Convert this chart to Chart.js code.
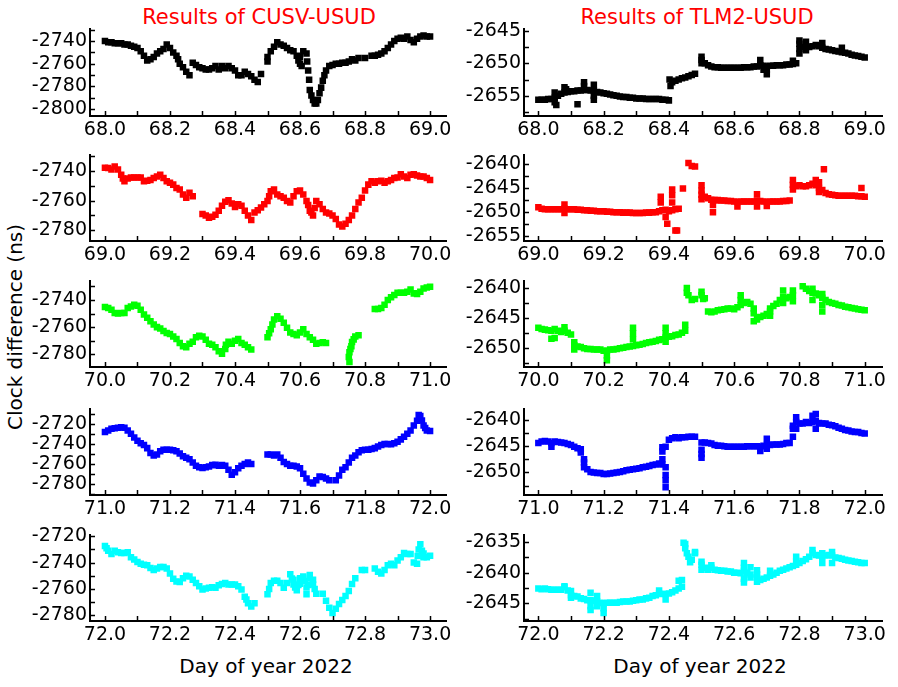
<!DOCTYPE html>
<html>
<head>
<meta charset="utf-8">
<script src="https://cdn.jsdelivr.net/npm/chart.js@4.4.1/dist/chart.umd.min.js"></script>
<style>
body { margin: 0; background: #fff; width: 898px; height: 687px; position: relative; overflow: hidden; font-family: 'DejaVu Sans', sans-serif; }
canvas { position: absolute; }
.lbl { position: absolute; white-space: nowrap; font-size: 20px; color: #000; transform: translate(-50%, -50%); }
</style>
</head>
<body>
<div class="lbl" style="left:259px;top:17px;color:#ff0000;font-size:21px">Results of CUSV-USUD</div>
<div class="lbl" style="left:697px;top:17px;color:#ff0000;font-size:21px">Results of TLM2-USUD</div>
<div class="lbl" style="left:15px;top:327px;transform:translate(-50%,-50%) rotate(-90deg)">Clock difference (ns)</div>
<div class="lbl" style="left:266px;top:666px">Day of year 2022</div>
<div class="lbl" style="left:700px;top:666px">Day of year 2022</div>

<script>
// values every 0.01 day starting at the panel's day, null = no data
const cusv68 = [-2740,-2741,-2741,-2742,-2742,-2742,-2743,-2743,-2744,-2745,
  -2746,-2749,-2753,-2757,-2756,-2754,-2751,-2749,-2747,-2743,
  -2746,-2750,-2753,-2760,-2763,-2767,-2770,-2759,-2761,-2763,
  -2764,-2765,-2765,-2764,-2762,-2765,-2762,-2764,-2762,-2764,
  -2766,-2770,-2770,-2767,-2769,-2771,-2774,-2776,-2769,null,
  -2758,-2749,-2745,-2741,-2743,-2744,-2746,-2748,-2749,-2753,
  -2754,-2749,-2751,-2783,-2792,-2795,-2786,-2775,-2766,-2762,
  -2761,-2760,-2760,-2759,-2759,-2758,-2756,-2757,-2755,null,
  -2755,null,-2753,-2753,-2752,-2751,-2749,-2746,-2743,-2740,
  -2738,-2737,-2738,-2736,-2739,-2741,-2738,-2736,-2735,-2736,
  -2736];
const cusv68Extra = [[68.225,-2756],[68.5,-2754],[68.595,-2757],[68.6,-2760],[68.605,-2762],[68.622,-2758],
  [68.625,-2766],[68.628,-2774],[68.635,-2788],[68.645,-2795],[68.655,-2792],[68.665,-2781],[68.675,-2770]];

const tlm68 = [-2655.6,-2655.6,-2655.6,-2655.5,-2655.5,-2655.3,-2655.0,-2654.7,-2654.5,-2654.4,
  -2654.3,-2654.3,-2654.2,-2654.2,-2654.1,-2654.1,-2654.2,-2654.2,-2654.4,-2654.5,
  -2654.6,-2654.7,-2654.8,-2654.9,-2655.0,-2655.1,-2655.2,-2655.2,-2655.3,-2655.3,
  -2655.4,-2655.4,-2655.4,-2655.5,-2655.5,-2655.5,-2655.5,-2655.5,-2655.6,-2655.6,
  -2655.7,-2652.9,-2652.7,-2652.5,-2652.3,-2652.2,-2652.0,-2651.8,-2651.6,null,
  -2650.0,-2650.0,-2650.3,-2650.5,-2650.6,-2650.6,-2650.7,-2650.7,-2650.7,-2650.7,
  -2650.7,-2650.7,-2650.7,-2650.6,-2650.6,-2650.6,-2650.5,-2650.5,-2650.3,-2650.4,
  -2650.5,-2650.4,-2650.4,-2650.3,-2650.3,-2650.3,-2650.2,-2650.2,-2650.1,-2650.0,
  -2647.8,-2647.5,-2647.4,-2647.5,-2647.4,-2647.2,-2647.4,-2647.6,-2647.8,-2647.9,
  -2648.0,-2648.1,-2648.2,-2648.3,-2648.4,-2648.5,-2648.7,-2648.8,-2648.9,-2649.0,
  -2649.1];
const tlm68Extra = [[68.05,-2654.5],[68.05,-2656],[68.055,-2656.4],[68.08,-2653.7],[68.085,-2654],[68.12,-2656.3],
  [68.14,-2652.9],[68.14,-2653.5],[68.17,-2653.3],[68.17,-2655],[68.17,-2655.6],[68.402,-2652.5],[68.405,-2653.5],
  [68.5,-2649],[68.5,-2649.5],[68.68,-2649.5],[68.69,-2651],[68.7,-2651.7],[68.7,-2651],[68.78,-2649.6],
  [68.8,-2646.5],[68.8,-2647],[68.8,-2648.5],[68.82,-2646.7],[68.82,-2648],[68.87,-2646.9],[68.93,-2647.6]];

const cusv69 = [-2737.8,-2738,-2739,-2737,-2739,-2742.6,-2747,-2745,-2744.4,-2744.4,
  -2744.4,-2744.4,-2747,-2746.6,-2746,-2744.8,-2743.7,-2742.6,-2744.8,-2747,
  -2748,-2749.2,-2751.4,-2752.5,-2755.8,-2758,-2754.7,-2757,null,null,
  -2769,-2770,-2771.6,-2770.8,-2769.5,-2766.8,-2763.5,-2760.7,-2759.8,-2762,
  -2764.2,-2762.4,-2763.5,-2766.8,-2770,-2773,-2768,-2766.4,-2764.6,-2762.4,
  -2760.2,-2753.6,-2752.5,-2755.8,-2757,-2758,-2760.2,-2761.3,-2757,-2753.6,
  -2753.2,-2755.8,-2760.2,-2766.8,-2770,-2760.2,-2762.4,-2765.7,-2768,-2768.6,
  -2770,-2772.3,-2776,-2777.4,-2775.6,-2773,-2770,-2765.7,-2761.3,-2758,
  -2753.2,-2749.2,-2747,-2748,-2747,-2746.6,-2748,-2747,-2746,-2744.8,
  -2744.4,-2742.2,-2743.7,-2744.8,-2742.6,-2742.2,-2743,-2743.7,-2743.7,-2744.8,
  -2746];
const cusv69Extra = [[69.055,-2745],[69.505,-2757],[69.625,-2763],[69.635,-2768],[69.645,-2765]];

const tlm69 = [-2649.0,-2649.3,-2649.4,-2649.4,-2649.4,-2649.4,-2649.4,-2649.4,-2649.3,-2649.4,
  -2649.4,-2649.4,-2649.5,-2649.5,-2649.6,-2649.6,-2649.7,-2649.7,-2649.8,-2649.8,
  -2649.8,-2649.9,-2649.9,-2650.0,-2650.0,-2650.0,-2650.1,-2650.1,-2650.1,-2650.2,
  -2650.2,-2650.2,-2650.2,-2650.1,-2650.1,-2650.0,-2650.0,-2649.8,-2649.6,-2649.5,
  -2649.8,-2649.6,-2649.4,-2649.3,null,null,-2639.8,-2640.4,-2640.5,null,
  -2647.3,-2646.8,-2647.1,-2647.4,-2647.5,-2647.5,-2647.6,-2647.6,-2647.7,-2647.7,
  -2647.8,-2647.9,-2647.8,-2647.8,-2647.8,-2647.8,-2647.8,-2647.6,-2647.7,-2647.8,
  -2647.9,-2647.8,-2647.8,-2647.8,-2647.8,-2647.7,-2647.7,-2647.6,-2645.3,-2644.6,
  -2644.4,-2644.6,-2644.6,-2644.4,-2644.1,-2644.4,-2645.0,-2645.4,-2646.0,-2646.3,
  -2646.4,-2646.5,-2646.6,-2646.6,-2646.6,-2646.6,-2646.6,-2646.6,-2646.7,-2646.7,
  -2646.8];
const tlm69Extra = [[69.08,-2648.4],[69.08,-2650.2],[69.375,-2646.8],[69.375,-2648],[69.39,-2651],[69.395,-2652.4],
  [69.41,-2645.3],[69.41,-2646.5],[69.41,-2648],[69.42,-2653.8],[69.425,-2653.8],[69.443,-2645.1],
  [69.5,-2644.4],[69.5,-2645.5],[69.5,-2646.4],[69.535,-2648.5],[69.535,-2650],[69.61,-2648.8],
  [69.67,-2646.3],[69.67,-2648.8],[69.7,-2648.7],[69.78,-2643.3],[69.78,-2644.3],[69.85,-2643.3],
  [69.86,-2643.8],[69.86,-2645.8],[69.875,-2641.1],[69.99,-2645.0]];

const cusv70 = [-2745.3,-2746,-2747.2,-2749.6,-2750,-2749.6,-2749.6,-2746,-2744.8,-2743.6,
  -2744.3,-2747.2,-2750.8,-2753.2,-2755.6,-2758,-2760,-2761,-2762.8,-2764.4,
  -2765.1,-2766.8,-2768.7,-2771.6,-2774,-2774.7,-2772.3,-2770.7,-2767.5,-2766.3,
  -2766.8,-2769.2,-2772.3,-2773,-2774.7,-2777.8,-2779.5,-2776,-2770.7,-2772.3,
  -2770,-2768.7,-2771.6,-2773,-2774.7,-2776.4,null,null,null,null,
  -2767.5,-2761.6,-2754.4,-2752,-2753.9,-2756.8,-2760.4,-2764,-2765.1,-2765.9,
  -2764,-2761.6,-2765.1,-2767.5,-2769.2,-2772.3,-2771.6,-2771.1,-2771.6,null,
  null,null,null,null,null,-2782,-2771,-2766.8,-2765.9,null,
  null,null,null,-2746.7,-2746.7,-2746,-2743.6,-2740,-2738,-2736.4,
  -2734.7,-2734.7,-2734.7,-2734,-2732.3,-2735.2,-2735.6,-2734,-2731.6,-2730.9,
  -2730.4];
const cusv70Extra = [[70.372,-2773],[70.505,-2764.5],[70.515,-2758],[70.752,-2785.6],[70.752,-2778.5],
  [70.755,-2776],[70.758,-2774],[70.765,-2769]];

const tlm70 = [-2646.6,-2646.8,-2646.9,-2647,-2647.1,-2646.8,-2647.1,-2647.3,-2647.1,-2647.4,
  -2647.7,-2649.5,-2649.7,-2649.8,-2650,-2650.1,-2650.1,-2650.2,-2650.2,-2650.2,
  -2650.4,-2650.4,-2650.2,-2650.2,-2650.1,-2650,-2649.9,-2649.8,-2649.7,-2649.6,
  -2649.5,-2649.4,-2649.3,-2649.1,-2649,-2648.9,-2648.8,-2648.6,-2648.5,-2648.2,
  -2648.1,-2648,-2647.8,-2647.7,-2647.4,-2647.1,-2641.2,-2642,-2641.8,null,
  -2641.2,-2641.7,-2643.9,-2644,-2643.9,-2643.7,-2643.6,-2643.5,-2643.4,-2643.4,
  -2643.5,-2643.2,-2642,-2642.5,-2642.3,-2642.6,-2644.2,-2645.2,-2644.8,-2644.6,
  -2644.3,-2643.9,-2643,-2642.6,-2642,-2641.5,-2641.7,-2641.5,-2641.2,null,
  null,-2639.7,-2640.1,-2640.5,-2640.8,-2640.9,-2641.2,-2641.6,-2642,-2642.3,
  -2642.5,-2642.6,-2642.8,-2642.9,-2643.1,-2643.2,-2643.3,-2643.4,-2643.5,-2643.6,
  -2643.7];
const tlm70Extra = [[70.04,-2648.4],[70.05,-2648.3],[70.08,-2646.5],[70.11,-2649],[70.11,-2650.2],[70.21,-2651.2],
  [70.21,-2652],[70.29,-2646.6],[70.29,-2647.5],[70.29,-2648.5],[70.39,-2646.6],[70.39,-2647.5],[70.39,-2648.9],
  [70.45,-2646.1],[70.455,-2640],[70.455,-2640.8],[70.5,-2640.6],[70.505,-2641.8],[70.62,-2641.2],[70.62,-2642.8],
  [70.66,-2643.4],[70.66,-2645.5],[70.71,-2643.4],[70.71,-2644.6],[70.75,-2640.4],[70.75,-2642.5],[70.78,-2640.4],
  [70.78,-2642.2],[70.84,-2640.1],[70.84,-2642],[70.87,-2641],[70.87,-2642.8],[70.87,-2643.9]];

const cusv71 = [-2728,-2726.4,-2724.8,-2724.2,-2723.8,-2723.2,-2723.8,-2726.4,-2729.6,-2733.4,
  -2736.6,-2739.2,-2740.8,-2744,-2748.8,-2751.3,-2750.4,-2747.2,-2745.6,-2745.6,
  -2745.6,-2746.2,-2747.2,-2749.4,-2752,-2753.5,-2755.1,-2758.3,-2761.5,-2763.1,
  -2763.8,-2763.1,-2762.2,-2760.9,-2760.6,-2761.5,-2760.9,-2761.5,-2765.4,-2770.5,
  -2767.9,-2764.1,-2761.5,-2759.9,-2758.3,-2759.9,null,null,null,null,
  -2750.4,-2750.4,-2751.3,-2750.4,-2753.5,-2757.7,-2759.9,-2761.5,-2761.5,-2762.2,
  -2764.1,-2769.5,-2774.3,-2778.1,-2779.1,-2775.9,-2772.1,-2772.7,-2774.3,-2775.9,
  null,-2775.9,-2771.1,-2765.4,-2763.1,-2758.3,-2753.5,-2751.3,-2748.1,-2746.2,
  -2745.6,-2745.6,-2744.9,-2744,-2742.4,-2740.8,-2739.8,-2739.8,-2740.1,-2739.2,
  -2737.6,-2735.3,-2732.8,-2729.6,-2726.4,-2721.6,-2716.8,-2712,-2721.6,-2726.4,
  -2727];
const cusv71Extra = [[71.965,-2711],[71.975,-2716.5],[71.985,-2724]];

const tlm71 = [-2644.4,-2644.1,-2644,-2644.1,-2644.4,-2644.1,-2644.2,-2644.3,-2644.4,-2644.6,
  -2644.8,-2645.1,-2645.4,-2645.6,-2648.1,-2649.4,-2649.9,-2650,-2650.1,-2650.1,
  -2650.3,-2650.3,-2650.2,-2650.1,-2650,-2649.9,-2649.8,-2649.6,-2649.5,-2649.4,
  -2649.3,-2649.2,-2649,-2648.9,-2648.8,-2648.6,-2648.5,-2648.3,-2647.5,-2645.1,
  -2643.8,-2643.5,-2643.3,-2643.5,-2643.3,-2643.3,-2643.2,-2643.2,-2643.2,null,
  -2645.7,-2644.3,-2644.4,-2644.5,-2644.8,-2644.9,-2644.9,-2645,-2645.1,-2645.1,
  -2645.1,-2645.1,-2645.1,-2645.1,-2645,-2645,-2645,-2645,-2645.1,-2644.9,
  -2644.8,-2644.8,-2644.7,-2644.7,-2644.7,-2644.6,-2644.4,-2644.4,-2641.7,-2640.4,
  -2640.7,-2640.7,-2640.4,-2640.6,-2640.4,-2640.2,-2640.6,-2640.7,-2640.7,-2640.9,
  -2641,-2641.2,-2641.5,-2641.7,-2641.9,-2642,-2642.2,-2642.3,-2642.3,-2642.5,
  -2642.6];
const tlm71Extra = [[71.04,-2645.1],[71.13,-2646.2],[71.14,-2647.5],[71.14,-2649],[71.38,-2645.2],[71.38,-2646],
  [71.38,-2648.5],[71.39,-2649],[71.39,-2650.5],[71.39,-2651.5],[71.39,-2652.8],[71.5,-2644.3],[71.5,-2646.5],
  [71.5,-2647.2],[71.68,-2645.9],[71.7,-2643.6],[71.7,-2645.5],[71.78,-2641.1],[71.78,-2643.2],[71.79,-2639.5],
  [71.79,-2641.7],[71.84,-2639.2],[71.85,-2638.9],[71.85,-2641.7]];

const cusv72 = [-2727.3,-2731,-2733.5,-2731,-2732.2,-2732.7,-2732.7,-2732.2,-2735.9,-2737.6,
  -2739.6,-2740.8,-2741.6,-2742,-2744,-2745.7,-2744.5,-2743.3,-2743.3,-2744.5,
  -2748.2,-2752.3,-2754.3,-2754.8,-2751.8,-2749.9,-2750.6,-2753,-2755.5,-2758,
  -2760.4,-2759.7,-2759.2,-2758.7,-2759.2,-2757.2,-2756.2,-2755.5,-2756.7,-2756.7,
  -2756.7,-2758,-2760.4,-2766,-2770.9,-2773.4,-2770.9,null,null,null,
  -2764.1,-2755.5,-2753.8,-2753.8,-2755.5,-2759.2,-2755.5,-2748.9,-2756.7,-2761.1,
  -2751.8,-2750.6,-2764.1,-2749.4,-2756.7,-2763.6,null,-2763.6,-2769,-2774.4,
  -2778.3,-2775.1,-2771.4,-2768.5,-2765.3,-2761.6,-2756.2,-2751.8,null,-2745.7,
  -2745.7,null,null,-2744.5,-2747,-2748.2,-2745.7,-2742,-2740.8,-2742,
  -2738.4,-2735.9,-2732.7,-2733.5,-2733.5,-2740,-2740.8,-2726.1,-2735.9,-2735.9,
  -2734.7];
const cusv72Extra = [[72.005,-2729],[72.435,-2768],[72.505,-2760],[72.575,-2752],[72.58,-2753],[72.585,-2759],
  [72.595,-2757],[72.6,-2756],[72.605,-2752],[72.615,-2754],[72.62,-2759],[72.625,-2757],[72.63,-2752],
  [72.64,-2753],[72.645,-2760],[72.962,-2735],[72.965,-2730],[72.975,-2731],[72.98,-2733]];

const tlm72 = [-2642.6,-2642.7,-2642.6,-2642.7,-2642.8,-2642.8,-2642.8,-2642.8,-2642.4,-2642.9,
  -2643.7,-2643.8,-2643.9,-2644.2,-2644.3,-2644.5,-2644.5,-2644.6,-2644.7,-2644.9,
  -2645,-2644.9,-2644.9,-2644.9,-2644.9,-2644.8,-2644.7,-2644.7,-2644.7,-2644.6,
  -2644.5,-2644.4,-2644.4,-2644.2,-2644.1,-2643.8,-2643.7,-2643.4,-2643.5,-2643.5,
  -2643.4,-2643.2,-2642.9,-2642.6,-2642.3,-2635.3,-2637.4,-2637.9,-2636.8,null,
  -2638.7,-2639.2,-2639.5,-2639.2,-2639.5,-2639.6,-2639.7,-2639.7,-2639.8,-2639.8,
  -2640,-2640,-2640.1,-2639.7,-2640,-2640.3,null,-2640.8,-2641.2,-2641,
  -2640.8,-2640.5,-2640.3,-2640,-2639.7,-2639.5,-2639.3,-2639.1,-2638.9,-2638.7,
  -2638.4,-2638.1,-2637.8,-2637.4,-2636.8,-2637.1,-2637.2,-2637.4,-2637.2,-2637.1,
  -2637.2,-2637.5,-2637.6,-2637.7,-2637.9,-2638,-2638.1,-2638.2,-2638.3,-2638.4,
  -2638.4];
const tlm72Extra = [[72.08,-2642.2],[72.1,-2643],[72.1,-2644.1],[72.16,-2643.3],[72.16,-2645.5],[72.16,-2646.1],
  [72.18,-2643.8],[72.18,-2645.5],[72.2,-2645.8],[72.2,-2646.6],[72.37,-2642.9],[72.39,-2644.4],[72.43,-2641.3],
  [72.44,-2641.2],[72.445,-2635.1],[72.45,-2636],[72.455,-2636.8],[72.465,-2638.3],[72.48,-2636.6],[72.5,-2638.2],
  [72.5,-2639.5],[72.53,-2638.8],[72.63,-2638.4],[72.63,-2639.2],[72.63,-2641],[72.63,-2641.6],[72.65,-2639.1],
  [72.65,-2640.8],[72.67,-2639.6],[72.67,-2640.3],[72.67,-2641.5],[72.71,-2639.7],[72.79,-2637.4],[72.79,-2638.1],
  [72.84,-2636.3],[72.87,-2636.8],[72.87,-2638.4],[72.9,-2636.6],[72.9,-2638.4]];

// tick labels
const xTicks68 = [68.0, 68.2, 68.4, 68.6, 68.8, 69.0];
const xTicks69 = [69.0, 69.2, 69.4, 69.6, 69.8, 70.0];
const xTicks70 = [70.0, 70.2, 70.4, 70.6, 70.8, 71.0];
const xTicks71 = [71.0, 71.2, 71.4, 71.6, 71.8, 72.0];
const xTicks72 = [72.0, 72.2, 72.4, 72.6, 72.8, 73.0];
const cusvTicks68 = [-2800, -2780, -2760, -2740];
const cusvTicks69 = [-2780, -2760, -2740];
const cusvTicks70 = [-2780, -2760, -2740];
const cusvTicks71 = [-2780, -2760, -2740, -2720];
const cusvTicks72 = [-2780, -2760, -2740, -2720];
const tlmTicks68 = [-2655, -2650, -2645];
const tlmTicks69 = [-2655, -2650, -2645, -2640];
const tlmTicks70 = [-2650, -2645, -2640];
const tlmTicks71 = [-2650, -2645, -2640];
const tlmTicks72 = [-2645, -2640, -2635];

const rowTop = [27, 153, 279, 407, 533];
const rowBottom = [116, 241, 367, 495, 621];

const panels = [
  { col: 0, row: 0, day: 68, vals: cusv68, extra: cusv68Extra, xt: xTicks68, yt: cusvTicks68, ymin: -2806, ymax: -2729.7, color: '#000000' },
  { col: 1, row: 0, day: 68, vals: tlm68, extra: tlm68Extra, xt: xTicks68, yt: tlmTicks68, ymin: -2658.1, ymax: -2644.8, color: '#000000' },
  { col: 0, row: 1, day: 69, vals: cusv69, extra: cusv69Extra, xt: xTicks69, yt: cusvTicks69, ymin: -2787.2, ymax: -2729.5, color: '#ff0000' },
  { col: 1, row: 1, day: 69, vals: tlm69, extra: tlm69Extra, xt: xTicks69, yt: tlmTicks69, ymin: -2656, ymax: -2638.2, color: '#ff0000' },
  { col: 0, row: 2, day: 70, vals: cusv70, extra: cusv70Extra, xt: xTicks70, yt: cusvTicks70, ymin: -2789.3, ymax: -2726.4, color: '#00ff00' },
  { col: 1, row: 2, day: 70, vals: tlm70, extra: tlm70Extra, xt: xTicks70, yt: tlmTicks70, ymin: -2653.1, ymax: -2638.9, color: '#00ff00' },
  { col: 0, row: 3, day: 71, vals: cusv71, extra: cusv71Extra, xt: xTicks71, yt: cusvTicks71, ymin: -2790.6, ymax: -2705.5, color: '#0000ff' },
  { col: 1, row: 3, day: 71, vals: tlm71, extra: tlm71Extra, xt: xTicks71, yt: tlmTicks71, ymin: -2654.3, ymax: -2638, color: '#0000ff' },
  { col: 0, row: 4, day: 72, vals: cusv72, extra: cusv72Extra, xt: xTicks72, yt: cusvTicks72, ymin: -2784.4, ymax: -2719.3, color: '#00ffff' },
  { col: 1, row: 4, day: 72, vals: tlm72, extra: tlm72Extra, xt: xTicks72, yt: tlmTicks72, ymin: -2647.9, ymax: -2633.9, color: '#00ffff' }
];

// small inward ticks, like the original axes
const inwardTicks = {
  id: 'inwardTicks',
  afterDraw(chart, args, opts) {
    const { ctx, chartArea, scales: { x, y } } = chart;
    ctx.save();
    ctx.strokeStyle = '#000';
    ctx.lineWidth = 1.5;
    ctx.beginPath();
    for (let v = Math.ceil(x.min * 10); v <= x.max * 10; v++) {
      const px = Math.round(x.getPixelForValue(v / 10)) + 0.5;
      ctx.moveTo(px, chartArea.bottom);
      ctx.lineTo(px, chartArea.bottom - 5);
    }
    for (let v = Math.ceil(y.min / opts.step); v * opts.step <= y.max; v++) {
      const py = Math.round(y.getPixelForValue(v * opts.step)) + 0.5;
      ctx.moveTo(chartArea.left, py);
      ctx.lineTo(chartArea.left + 5, py);
    }
    ctx.stroke();
    ctx.restore();
  }
};

const tickFont = { family: 'DejaVu Sans', size: 19 };

panels.forEach(p => {
  const canvas = document.createElement('canvas');
  const left = p.col === 0 ? 0 : 440;
  const width = p.col === 0 ? 460 : 458;
  const top = rowTop[p.row] - 12;
  const height = rowBottom[p.row] - rowTop[p.row] + 12 + 32;
  canvas.width = width;
  canvas.height = height;
  canvas.style.left = left + 'px';
  canvas.style.top = top + 'px';
  canvas.style.width = width + 'px';
  canvas.style.height = height + 'px';
  document.body.appendChild(canvas);

  const pts = [];
  p.vals.forEach((v, i) => {
    if (v !== null) pts.push({ x: p.day + i / 100, y: v });
  });
  p.extra.forEach(([x, y]) => pts.push({ x, y }));

  const xmin = p.col === 0 ? p.day - 0.046 : p.day - 0.044;
  const xmax = p.col === 0 ? p.day + 1.049 : p.day + 1.053;

  new Chart(canvas, {
    type: 'scatter',
    data: {
      datasets: [{
        data: pts,
        backgroundColor: p.color,
        borderWidth: 0,
        pointStyle: 'rect',
        pointRadius: 4.6,
        pointHoverRadius: 4.6
      }]
    },
    options: {
      responsive: false,
      animation: false,
      events: [],
      layout: { padding: { top: 12, right: p.col === 0 ? 14 : 16, left: 0, bottom: 0 } },
      plugins: {
        legend: { display: false },
        tooltip: { enabled: false },
        inwardTicks: { step: p.col === 0 ? 10 : 2.5 }
      },
      scales: {
        x: {
          type: 'linear',
          min: xmin,
          max: xmax,
          afterBuildTicks: s => { s.ticks = p.xt.map(v => ({ value: v })); },
          afterFit: s => { s.height = 32; },
          grid: { display: false, drawTicks: false },
          border: { display: true, color: '#000', width: 2 },
          ticks: { color: '#000', font: tickFont, padding: 3, maxRotation: 0, autoSkip: false, callback: v => v.toFixed(1) }
        },
        y: {
          min: p.ymin,
          max: p.ymax,
          afterBuildTicks: s => { s.ticks = p.yt.map(v => ({ value: v })); },
          afterFit: s => { s.width = p.col === 0 ? 90 : 84; },
          grid: { display: false, drawTicks: false },
          border: { display: true, color: '#000', width: 2 },
          ticks: { color: '#000', font: tickFont, padding: 3, autoSkip: false, callback: v => String(v) }
        }
      }
    },
    plugins: [inwardTicks]
  });
});
</script>
</body>
</html>
